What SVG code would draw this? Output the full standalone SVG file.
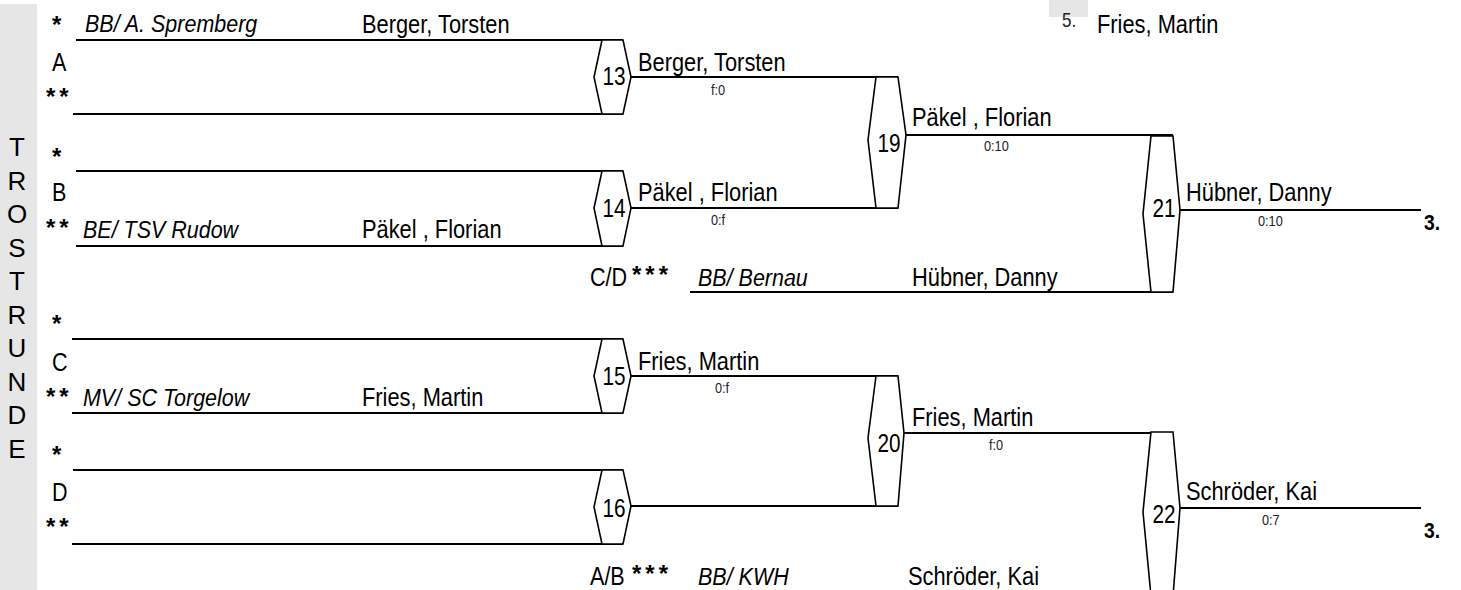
<svg xmlns="http://www.w3.org/2000/svg" width="1461" height="590" viewBox="0 0 1461 590">
<style>
text { font-family: 'Liberation Sans Narrow', 'Liberation Sans', Arial, sans-serif; fill: #000; }
.n, .l, .num, .c, .sc, .pl { transform-box: fill-box; transform-origin: 0% 50%; }
.n { font-size: 26px; transform: scaleX(.84); }
.l { font-size: 26px; transform: scaleX(.83); }
.c { font-size: 24px; font-style: italic; transform: scaleX(.895); }
.num { font-size: 25px; text-anchor: middle; transform-origin: 50% 50%; transform: scaleX(.83); }
.sc { font-size: 15px; fill: #222; transform: scaleX(.85); }
.pl { font-size: 22px; font-weight: bold; transform: scaleX(.88); }
.v { font-size: 26px; text-anchor: middle; }
.s { font-size: 24px; font-weight: bold; letter-spacing: 4px; }
.hex { fill: #fff; stroke: #000; stroke-width: 1.6; }
.ln { stroke: #000; stroke-width: 2; fill: none; }
</style>
<rect x="0" y="4" width="37" height="586" fill="#e6e6e6"/>
<g id="side-label">
<text class="v" x="17" y="156">T</text>
<text class="v" x="17" y="189.5">R</text>
<text class="v" x="17" y="223">O</text>
<text class="v" x="17" y="256.5">S</text>
<text class="v" x="17" y="290">T</text>
<text class="v" x="17" y="323.5">R</text>
<text class="v" x="17" y="357">U</text>
<text class="v" x="17" y="390.5">N</text>
<text class="v" x="17" y="424">D</text>
<text class="v" x="17" y="457.5">E</text>
</g>
<g id="place5">
<rect x="1049" y="0" width="39" height="17" fill="#e6e6e6"/>
<text class="sc" x="1062" y="27" style="font-size:20px">5.</text>
<text class="n" x="1097" y="33">Fries, Martin</text>
</g>
<g id="connectors">
<line class="ln" x1="76" y1="40" x2="623" y2="40"/>
<line class="ln" x1="73" y1="114" x2="623" y2="114"/>
<line class="ln" x1="76" y1="171" x2="623" y2="171"/>
<line class="ln" x1="76" y1="246" x2="623" y2="246"/>
<line class="ln" x1="72" y1="339" x2="623" y2="339"/>
<line class="ln" x1="72" y1="413" x2="623" y2="413"/>
<line class="ln" x1="73" y1="470" x2="623" y2="470"/>
<line class="ln" x1="72" y1="544" x2="623" y2="544"/>
<line class="ln" x1="631" y1="77" x2="898" y2="77"/>
<line class="ln" x1="631" y1="208" x2="898" y2="208"/>
<line class="ln" x1="631" y1="376" x2="898" y2="376"/>
<line class="ln" x1="631" y1="506" x2="898" y2="506"/>
<line class="ln" x1="906" y1="135" x2="1173" y2="135"/>
<line class="ln" x1="690" y1="292" x2="1173" y2="292"/>
<line class="ln" x1="904" y1="433" x2="1173" y2="433"/>
<line class="ln" x1="1180" y1="210" x2="1421" y2="210"/>
<line class="ln" x1="1180" y1="508" x2="1421" y2="508"/>
</g>
<g id="entry-A">
<text class="s" x="52" y="32.5">*</text>
<text class="c" x="85" y="32">BB/ A. Spremberg</text>
<text class="n" x="362" y="33">Berger, Torsten</text>
<text class="l" x="52" y="71">A</text>
<text class="s" x="46" y="104.5">**</text>
</g>
<g id="entry-B">
<text class="s" x="52" y="164.5">*</text>
<text class="l" x="52" y="201">B</text>
<text class="s" x="46" y="235.5">**</text>
<text class="c" x="83" y="238">BE/ TSV Rudow</text>
<text class="n" x="362" y="238">Päkel , Florian</text>
</g>
<g id="entry-C">
<text class="s" x="52" y="331.5">*</text>
<text class="l" x="52" y="371">C</text>
<text class="s" x="46" y="404.5">**</text>
<text class="c" x="83" y="406">MV/ SC Torgelow</text>
<text class="n" x="362" y="406">Fries, Martin</text>
</g>
<g id="entry-D">
<text class="s" x="52" y="462.5">*</text>
<text class="l" x="52" y="501">D</text>
<text class="s" x="46" y="534.5">**</text>
</g>
<g id="entry-CD">
<text class="l" x="590" y="286">C/D</text>
<text class="s" x="632" y="282.5">***</text>
<text class="c" x="698" y="286">BB/ Bernau</text>
<text class="n" x="912" y="286">Hübner, Danny</text>
</g>
<g id="entry-AB">
<text class="l" x="590" y="585">A/B</text>
<text class="s" x="632" y="581.5">***</text>
<text class="c" x="698" y="585">BB/ KWH</text>
<text class="n" x="908" y="585">Schröder, Kai</text>
</g>
<g id="match-13">
<polygon class="hex" points="602,40 623,40 631,77 623,114 602,114 594,77"/>
<text class="num" x="614" y="85">13</text>
<text class="n" x="638" y="71.5">Berger, Torsten</text>
<text class="sc" x="711" y="95">f:0</text>
</g>
<g id="match-14">
<polygon class="hex" points="602,171 623,171 631,208 623,246 602,246 594,208"/>
<text class="num" x="614" y="217">14</text>
<text class="n" x="638" y="201.5">Päkel , Florian</text>
<text class="sc" x="711" y="225">0:f</text>
</g>
<g id="match-15">
<polygon class="hex" points="602,339 623,339 631,376 623,413 602,413 594,376"/>
<text class="num" x="614" y="385">15</text>
<text class="n" x="638" y="370">Fries, Martin</text>
<text class="sc" x="715" y="393">0:f</text>
</g>
<g id="match-16">
<polygon class="hex" points="602,470 623,470 631,506 623,544 602,544 594,507"/>
<text class="num" x="614" y="517">16</text>
</g>
<g id="match-19">
<polygon class="hex" points="876,77 898,77 906,135 898,208 876,208 868,140"/>
<text class="num" x="889" y="152">19</text>
<text class="n" x="912" y="126.5">Päkel , Florian</text>
<text class="sc" x="984" y="151.5">0:10</text>
</g>
<g id="match-20">
<polygon class="hex" points="876,376 898,376 904,433 898,506 876,506 868,438"/>
<text class="num" x="889" y="452">20</text>
<text class="n" x="912" y="426.5">Fries, Martin</text>
<text class="sc" x="989" y="450.5">f:0</text>
</g>
<g id="match-21">
<polygon class="hex" points="1151,136 1173,136 1180,210 1173,292 1151,292 1143,214"/>
<text class="num" x="1164" y="217">21</text>
<text class="n" x="1186" y="201">Hübner, Danny</text>
<text class="sc" x="1258" y="226">0:10</text>
<text class="pl" x="1424" y="230">3.</text>
</g>
<g id="match-22">
<polygon class="hex" points="1151,432 1173,432 1180,508 1173,596 1151,596 1143,512"/>
<text class="num" x="1164" y="523">22</text>
<text class="n" x="1186" y="500.5">Schröder, Kai</text>
<text class="sc" x="1262" y="525">0:7</text>
<text class="pl" x="1424" y="538">3.</text>
</g>
</svg>
